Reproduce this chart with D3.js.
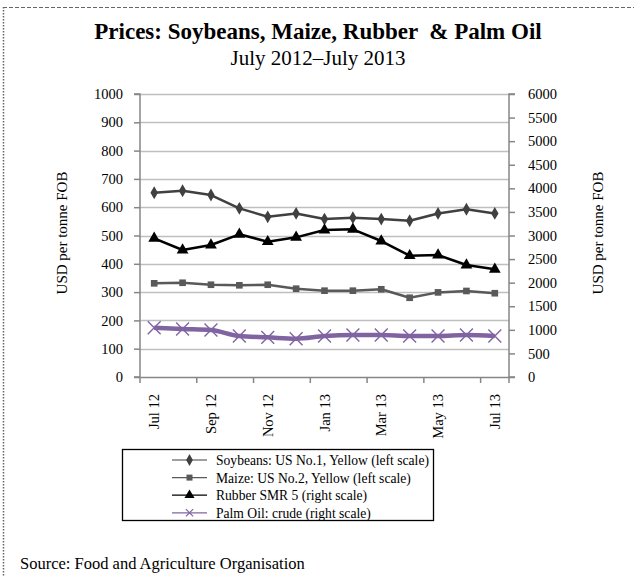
<!DOCTYPE html>
<html><head><meta charset="utf-8">
<script src="https://cdn.jsdelivr.net/npm/d3@7"></script>
<style>
html,body{margin:0;padding:0;background:#fff;}
svg{display:block;}
svg text{font-family:"Liberation Serif","Times New Roman",serif;}
</style></head>
<body>
<svg id="chart" width="634" height="576"></svg>
<script>
const months = ["Jul 12","Aug 12","Sep 12","Oct 12","Nov 12","Dec 12","Jan 13","Feb 13","Mar 13","Apr 13","May 13","Jun 13","Jul 13"];
const soybeans = [651,658,643,596,566,578,558,563,558,552,578,593,578];
const maize = [331,333,326,324,326,312,305,305,310,280,299,304,296];
const rubber = [2940,2692,2798,3025,2869,2961,3116,3131,2883,2572,2586,2374,2283];
const palmOil = [1045,1018,996,869,841,812,869,890,890,869,869,890,869];
const leftTicks = [0,100,200,300,400,500,600,700,800,900,1000];
const rightTicks = [0,500,1000,1500,2000,2500,3000,3500,4000,4500,5000,5500,6000];
const legendLabels = ["Soybeans: US No.1, Yellow (left scale)","Maize: US No.2, Yellow (left scale)","Rubber SMR 5 (right scale)","Palm Oil: crude (right scale)"];

const svg = d3.select("#chart");
const L = 140, R = 509, T = 94, B = 377;

// outer frame (dashed top, dotted left)
svg.append("line").attr("x1",3).attr("x2",634).attr("y1",7.5).attr("y2",7.5)
  .attr("stroke","#666").attr("stroke-dasharray","4,2").attr("stroke-width",1);
svg.append("line").attr("x1",3.5).attr("x2",3.5).attr("y1",7).attr("y2",576)
  .attr("stroke","#666").attr("stroke-dasharray","1.5,1.5").attr("stroke-width",1.5);

// titles
svg.append("text").attr("x",318).attr("y",39).attr("text-anchor","middle").attr("xml:space","preserve")
  .attr("font-size",23).attr("font-weight","bold").text("Prices: Soybeans, Maize, Rubber  & Palm Oil");
svg.append("text").attr("x",318).attr("y",65).attr("text-anchor","middle")
  .attr("font-size",21).text("July 2012\u2013July 2013");

const x = d3.scaleBand().domain(months).range([L,R]).padding(0);
const yL = d3.scaleLinear().domain([0,1000]).range([B,T]);
const yR = d3.scaleLinear().domain([0,6000]).range([B,T]);
const cx = m => x(m) + x.bandwidth()/2;

// gridlines
svg.append("g").selectAll("line").data(leftTicks.slice(1)).join("line")
  .attr("x1",L).attr("x2",R).attr("y1",d=>Math.round(yL(d))+0.5).attr("y2",d=>Math.round(yL(d))+0.5)
  .attr("stroke","#bfbfbf").attr("stroke-width",1.3);

// left axis
const gL = svg.append("g").attr("transform",`translate(${L},0)`)
  .call(d3.axisLeft(yL).tickValues(leftTicks).tickSize(6).tickPadding(11).tickFormat(d3.format("d")));
// right axis
const gR = svg.append("g").attr("transform",`translate(${R},0)`)
  .call(d3.axisRight(yR).tickValues(rightTicks).tickSize(6).tickPadding(12).tickFormat(d3.format("d")));
// bottom axis
const boundaryTicks = months.filter((m,i)=>i%2===0);
const gB = svg.append("g").attr("transform",`translate(0,${B})`)
  .call(d3.axisBottom(x).tickValues(boundaryTicks).tickSize(0).tickFormat(""));
gB.selectAll(".tick text").remove();
gB.selectAll(".tick").append("line").attr("x1",-x.bandwidth()/2).attr("x2",-x.bandwidth()/2).attr("y1",0).attr("y2",6);
svg.append("line").attr("x1",R).attr("x2",R).attr("y1",B).attr("y2",B+6).attr("stroke","#868686").attr("stroke-width",1.5);
gB.selectAll(".tick").append("text").attr("transform",`translate(5,${17}) rotate(-90)`)
  .attr("text-anchor","end").text(d=>d);

[gL,gR,gB].forEach(g=>{
  g.attr("font-family",null).attr("font-size",null);
  g.select(".domain").attr("stroke","#868686").attr("stroke-width",1.5);
  g.selectAll(".tick line").attr("stroke","#868686").attr("stroke-width",1.5);
  g.selectAll(".tick text").style("font-family","'Liberation Serif', serif").style("font-size","14.5px").attr("fill","#000");
});
gL.select(".domain").attr("d",`M-6,${B}H0V${T}H-6`);
gR.select(".domain").attr("d",`M6,${B}H0V${T}H6`);
gR.selectAll(".tick text").attr("x",19);

// axis titles
svg.append("text").attr("transform","translate(67,233) rotate(-90)").attr("text-anchor","middle")
  .attr("font-size",15).text("USD per tonne FOB");
svg.append("text").attr("transform","translate(603,233) rotate(-90)").attr("text-anchor","middle")
  .attr("font-size",15).text("USD per tonne FOB");

const plot = svg.append("g");
function series(vals, yScale, color, width, curve){
  const line = d3.line().x((d,i)=>cx(months[i])).y(d=>yScale(d)).curve(curve||d3.curveLinear);
  plot.append("path").attr("d",line(vals)).attr("fill","none").attr("stroke",color).attr("stroke-width",width).attr("stroke-linejoin","round");
}
series(palmOil, yR, "#8064A2", 4.5, d3.curveMonotoneX);
series(maize, yL, "#595959", 2.5);
series(soybeans, yL, "#404040", 2.5);
series(rubber, yR, "#000", 2.5);

const sym = (type,size)=>d3.symbol().type(type).size(size)();
function markers(vals,yScale,type,size,fill,stroke,sw){
  plot.append("g").selectAll("path").data(vals).join("path")
    .attr("transform",(d,i)=>`translate(${cx(months[i])},${yScale(d)})`)
    .attr("d",sym(type,size)).attr("fill",fill).attr("stroke",stroke||"none").attr("stroke-width",sw||0);
}
markers(palmOil,yR,d3.symbolX,110,"none","#8064A2",1.4);
markers(maize,yL,d3.symbolSquare,44,"#595959");
markers(soybeans,yL,d3.symbolDiamond,48,"#404040");
markers(rubber,yR,d3.symbolTriangle,60,"#000");

// legend
const lg = svg.append("g");
lg.append("rect").attr("x",122.5).attr("y",449.5).attr("width",311).attr("height",71)
  .attr("fill","#fff").attr("stroke","#000").attr("stroke-width",1.3);
const legendStyle = [
  {color:"#404040", type:d3.symbolDiamond, size:40},
  {color:"#595959", type:d3.symbolSquare, size:36},
  {color:"#000", type:d3.symbolTriangle, size:44},
  {color:"#8064A2", type:d3.symbolX, size:36, stroke:true}
];
legendLabels.forEach((lab,i)=>{
  const y = 460 + i*17.6;
  const s = legendStyle[i];
  lg.append("line").attr("x1",172).attr("x2",207).attr("y1",y).attr("y2",y).attr("stroke",s.color).attr("stroke-width",1.2);
  lg.append("path").attr("transform",`translate(189.5,${y})`).attr("d",d3.symbol().type(s.type).size(s.size)())
    .attr("fill",s.stroke?"none":s.color).attr("stroke",s.stroke?s.color:"none").attr("stroke-width",1.2);
  lg.append("text").attr("x",216).attr("y",y+5).attr("font-size",13.6).text(lab);
});

// source
svg.append("text").attr("x",20).attr("y",569).attr("font-size",16.5).text("Source: Food and Agriculture Organisation");
</script>
</body></html>
